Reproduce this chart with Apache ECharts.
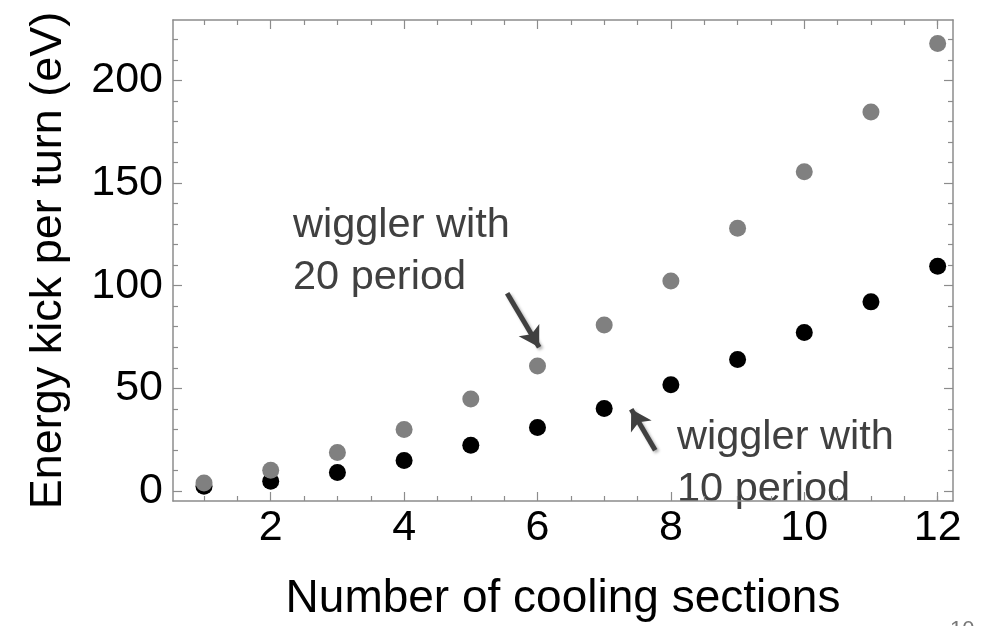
<!DOCTYPE html>
<html>
<head>
<meta charset="utf-8">
<script src="https://cdn.jsdelivr.net/npm/echarts@6/dist/echarts.min.js"></script>
<style>
html,body{margin:0;padding:0;background:#fff;}
#chart{width:984px;height:626px;}
</style>
</head>
<body>
<div id="chart"></div>
<script>
// ---- data ----
const sections = [1, 2, 3, 4, 5, 6, 7, 8, 9, 10, 11, 12];
const kick10period = [2.3, 4.7, 9.0, 14.8, 22.3, 30.9, 40.2, 51.7, 64.0, 77.2, 92.1, 109.5];
const kick20period = [3.9, 10.1, 18.7, 29.9, 44.8, 60.9, 80.8, 102.3, 128.0, 155.5, 184.6, 218.0];
const xMajorTicks = [2, 4, 6, 8, 10, 12];
const xMinorTicks = [1, 1.5, 2.5, 3, 3.5, 4.5, 5, 5.5, 6.5, 7, 7.5, 8.5, 9, 9.5, 10.5, 11, 11.5, 12];
const yMajorTicks = [0, 50, 100, 150, 200];
const yMinorTicks = [10, 20, 30, 40, 60, 70, 80, 90, 110, 120, 130, 140, 160, 170, 180, 190, 210, 220];
const xTitle = 'Number of cooling sections';
const yTitle = 'Energy kick per turn (eV)';
const note20 = 'wiggler with\n20 period';
const note10 = 'wiggler with\n10 period';
// arrow endpoints in data coordinates (tail -> tip)
const arrow20 = [[5.545, 96.3], [6.025, 70.0]];
const arrow10 = [[7.765, 19.8], [7.405, 39.8]];

const X_MIN = 0.535, X_MAX = 12.23, Y_MIN = -4.9, Y_MAX = 229.4;
const FONT = '"Liberation Sans", Arial, sans-serif';
const FRAME = '#8c8c8c';

const toPairs = (xs, ys) => xs.map((x, i) => [x, ys[i]]);

function xAx(pos, ticks, len, showLine, showLabel, extra) {
  return Object.assign({
    type: 'value', position: pos, min: X_MIN, max: X_MAX,
    axisLine: { show: showLine, onZero: false, lineStyle: { color: FRAME, width: 1.5 } },
    axisTick: { show: true, inside: true, length: len, customValues: ticks, lineStyle: { color: FRAME, width: 1.2 } },
    axisLabel: showLabel ? { show: true, customValues: ticks, fontFamily: FONT, fontSize: 43, color: '#000', margin: 6 } : { show: false },
    splitLine: { show: false }
  }, extra || {});
}
function yAx(pos, ticks, len, showLine, showLabel, extra) {
  return Object.assign({
    type: 'value', position: pos, min: Y_MIN, max: Y_MAX,
    axisLine: { show: showLine, onZero: false, lineStyle: { color: FRAME, width: 1.5 } },
    axisTick: { show: true, inside: true, length: len, customValues: ticks, lineStyle: { color: FRAME, width: 1.2 } },
    axisLabel: showLabel ? { show: true, customValues: ticks, fontFamily: FONT, fontSize: 43, color: '#000', margin: 10 } : { show: false },
    splitLine: { show: false }
  }, extra || {});
}

const chart = echarts.init(document.getElementById('chart'), null, { renderer: 'canvas' });
chart.setOption({
  animation: false,
  backgroundColor: '#fff',
  grid: { left: 173, top: 20, right: 31, bottom: 125, containLabel: false, outerBoundsMode: 'none' },
  xAxis: [
    xAx('bottom', xMajorTicks, 9, true, true, {
      name: xTitle, nameLocation: 'middle', nameGap: 75,
      nameTextStyle: { fontFamily: FONT, fontSize: 46, color: '#000' }
    }),
    xAx('bottom', xMinorTicks, 5, false, false),
    xAx('top', xMajorTicks, 9, true, false),
    xAx('top', xMinorTicks, 5, false, false)
  ],
  yAxis: [
    yAx('left', yMajorTicks, 9, true, true, {
      name: yTitle, nameLocation: 'middle', nameGap: 102, nameRotate: 90,
      nameTextStyle: { fontFamily: FONT, fontSize: 45, color: '#000' }
    }),
    yAx('left', yMinorTicks, 5, false, false),
    yAx('right', yMajorTicks, 9, true, false),
    yAx('right', yMinorTicks, 5, false, false)
  ],
  series: [
    {
      name: '10 period', type: 'scatter', xAxisIndex: 0, yAxisIndex: 0,
      data: toPairs(sections, kick10period),
      symbol: 'circle', symbolSize: 17,
      itemStyle: { color: '#000000', opacity: 1 }
    },
    {
      name: '20 period', type: 'scatter', xAxisIndex: 0, yAxisIndex: 0,
      data: toPairs(sections, kick20period),
      symbol: 'circle', symbolSize: 17,
      itemStyle: { color: '#808080', opacity: 1 },
      markLine: {
        silent: true, animation: false,
        symbol: ['none', 'arrow'], symbolSize: [18, 20],
        label: { show: false },
        lineStyle: { color: '#404040', width: 5, type: 'solid', opacity: 1,
          shadowColor: 'rgba(0,0,0,0.3)', shadowBlur: 3, shadowOffsetX: 2, shadowOffsetY: 2 },
        emphasis: { disabled: true },
        data: [
          [{ coord: arrow20[0] }, { coord: arrow20[1] }],
          [{ coord: arrow10[0] }, { coord: arrow10[1] }]
        ]
      }
    }
  ],
  graphic: [
    { type: 'text', left: 293, top: 200, silent: true,
      style: { text: note20, fontFamily: FONT, fontSize: 41.5, lineHeight: 52, fill: '#404040' } },
    { type: 'text', left: 677, top: 412, silent: true,
      style: { text: note10, fontFamily: FONT, fontSize: 41.5, lineHeight: 52, fill: '#404040' } },
    { type: 'text', left: 950, top: 619, silent: true,
      style: { text: '10', fontFamily: FONT, fontSize: 22, fill: '#777' } }
  ]
});
</script>
</body>
</html>
